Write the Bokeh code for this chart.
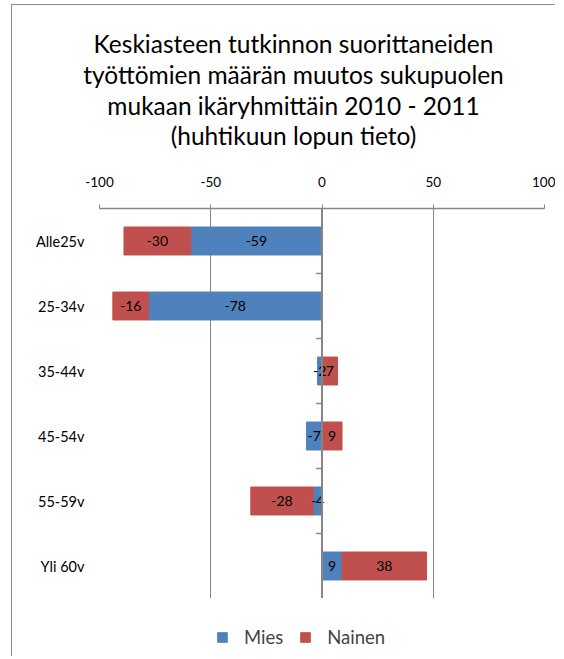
import numpy as np
from bokeh.plotting import figure
from bokeh.layouts import column
from bokeh.models import (Legend, LegendItem, FixedTicker, Span, ColumnDataSource, Range1d)
from bokeh.core.properties import value
from bokeh.embed import file_html
from bokeh.resources import INLINE

title_lines = ["Keskiasteen tutkinnon suorittaneiden",
               "työttömien määrän muutos sukupuolen",
               "mukaan ikäryhmittäin 2010 - 2011",
               "(huhtikuun lopun tieto)"]
categories = ["Alle25v", "25-34v", "35-44v", "45-54v", "55-59v", "Yli 60v"]
mies = [-59, -78, -2, -7, -4, 9]
nainen = [-30, -16, 7, 9, -28, 38]
x_ticks = [-100, -50, 0, 50, 100]
series_names = ["Mies", "Nainen"]
colors = ["#4F81BD", "#C0504D"]

FONT = "Lato"
GREY = "#868686"

# layout geometry (px)
BL, BR = 87, 11
FRAME_W, FRAME_H = 445, 390
FIG_W = BL + FRAME_W + BR
TITLE_H = 166
LEG_H = 58

def blank(**kw):
    fig = figure(output_backend="svg", toolbar_location=None, **kw)
    fig.axis.visible = False
    fig.grid.grid_line_color = None
    fig.outline_line_color = None
    return fig

# ---------------- title panel (full-width frame) ----------------
pt = blank(width=FIG_W, height=TITLE_H, min_border=0,
           x_range=Range1d(0, FIG_W), y_range=Range1d(0, TITLE_H))
title_src = ColumnDataSource(dict(
    x=[281] * len(title_lines),
    y=[TITLE_H - 38 - 30.8 * i for i in range(len(title_lines))],
    t=title_lines))
pt.text(x="x", y="y", text="t", source=title_src, text_align="center", text_baseline="middle",
        text_font=value(FONT), text_font_size="24.5px", text_color="black")

# ---------------- chart ----------------
n = len(categories)
ypos = np.array([n - i - 0.5 for i in range(n)])
m = np.array(mies, dtype=float)
f = np.array(nainen, dtype=float)
# Excel-style stacking: positives and negatives stack separately
m_left = np.zeros(n)
m_right = m
f_left = np.where(np.sign(f) == np.sign(m), m, 0.0)
f_right = f_left + f

src_m = ColumnDataSource(dict(y=ypos, left=m_left, right=m_right, mid=(m_left + m_right) / 2,
                              lab=[str(v) for v in mies]))
src_f = ColumnDataSource(dict(y=ypos, left=f_left, right=f_right, mid=(f_left + f_right) / 2,
                              lab=[str(v) for v in nainen]))

p = figure(frame_width=FRAME_W, frame_height=FRAME_H, output_backend="svg", toolbar_location=None,
           x_range=Range1d(-100, 100), y_range=Range1d(0, n),
           x_axis_location="above", min_border_left=BL, min_border_right=BR,
           min_border_top=37, min_border_bottom=0)
p.outline_line_color = None
p.background_fill_color = "white"

xa = p.xaxis[0]
xa.ticker = FixedTicker(ticks=x_ticks)
xa.major_label_overrides = {t: str(t) for t in x_ticks}
xa.axis_line_color = GREY
xa.axis_line_width = 1.5
xa.major_tick_line_color = GREY
xa.major_tick_out = 4
xa.major_tick_in = 0
xa.minor_tick_line_color = None
xa.major_label_text_font = FONT
xa.major_label_text_font_size = "13.5px"
xa.major_label_text_color = "black"
xa.major_label_standoff = 18

ya = p.yaxis[0]
ya.ticker = FixedTicker(ticks=list(ypos))
ya.major_label_overrides = {float(y): c for y, c in zip(ypos, categories)}
ya.axis_line_color = None
ya.major_tick_line_color = None
ya.major_tick_out = 0
ya.major_tick_in = 0
ya.minor_tick_line_color = None
ya.major_label_text_font = FONT
ya.major_label_text_font_size = "14.5px"
ya.major_label_text_color = "black"
ya.major_label_standoff = 15

p.xgrid.ticker = FixedTicker(ticks=x_ticks)
p.xgrid.grid_line_color = GREY
p.xgrid.grid_line_width = 1
p.ygrid.grid_line_color = None

p.hbar(y="y", left="left", right="right", height=0.43, source=src_m,
       fill_color=colors[0], line_color=colors[0])
p.hbar(y="y", left="left", right="right", height=0.43, source=src_f,
       fill_color=colors[1], line_color=colors[1])

# category axis line at x = 0 with boundary ticks
p.add_layout(Span(location=0, dimension="height", line_color=GREY, line_width=2))
bounds = np.arange(1, n)
p.segment(x0=np.full(n - 1, -2.6), x1=np.zeros(n - 1), y0=bounds, y1=bounds,
          line_color=GREY, line_width=1.5)

for s in (src_m, src_f):
    p.text(x="mid", y="y", text="lab", source=s, text_align="center", text_baseline="middle",
           text_font=value(FONT), text_font_size="14px", text_color="black")

# ---------------- legend panel ----------------
pl = blank(frame_width=FRAME_W, height=LEG_H, min_border_left=BL, min_border_right=BR,
           min_border_top=0, min_border_bottom=0,
           x_range=Range1d(1000, 1001), y_range=Range1d(1000, 1001))  # proxies lie outside view
lr_m = pl.hbar(y="y", left="left", right="right", height=0.43, source=src_m,
               fill_color=colors[0], line_color=colors[0])
lr_f = pl.hbar(y="y", left="left", right="right", height=0.43, source=src_f,
               fill_color=colors[1], line_color=colors[1])
legend = Legend(items=[LegendItem(label=series_names[0], renderers=[lr_m], index=0),
                       LegendItem(label=series_names[1], renderers=[lr_f], index=0)],
                orientation="horizontal", location=(117, 8),
                label_text_font=FONT, label_text_font_size="18.5px",
                glyph_width=12, glyph_height=12, spacing=16, label_standoff=16,
                border_line_color=None, background_fill_alpha=0, margin=0, padding=4)
pl.add_layout(legend, "center")

layout = column(pt, column(p, pl, spacing=0), spacing=0,
                styles={"margin-left": "11px", "margin-top": "4px",
                        "border-left": "1px solid #8c8c8c", "border-top": "1px solid #8c8c8c"})

open("out.html", "w").write(file_html(layout, INLINE))
